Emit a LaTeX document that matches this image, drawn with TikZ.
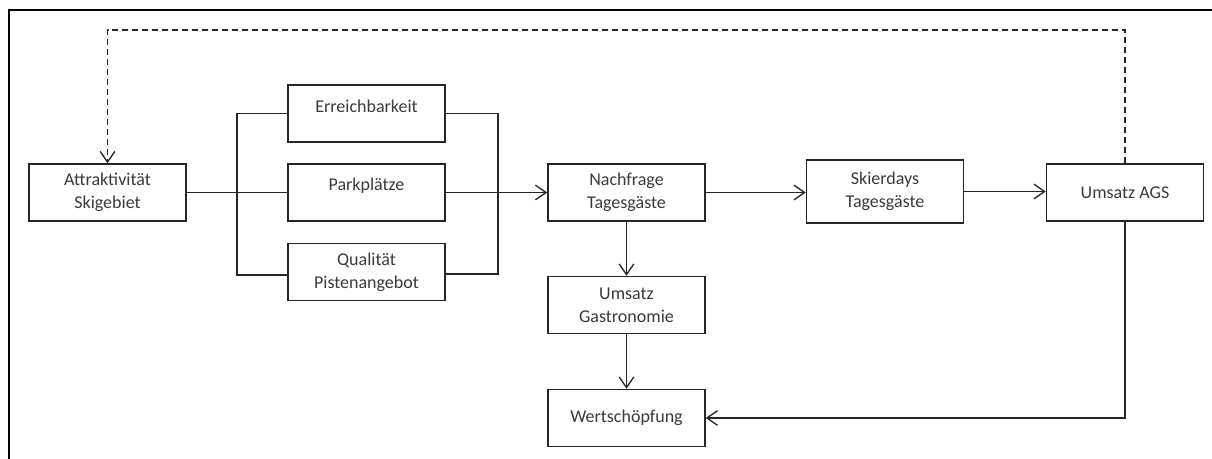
\documentclass[tikz,border=0pt]{standalone}
\usepackage{fontspec}
\setmainfont{Carlito}
\usetikzlibrary{arrows.meta}
\definecolor{txt}{HTML}{3A3A3A}
\begin{document}
\begin{tikzpicture}[x=0.75pt,y=-0.75pt,
  box/.style={draw=black!85,line width=1.1pt,minimum width=117.75pt,minimum height=42.75pt,inner sep=0pt,align=center,text=txt,font=\fontsize{13.5}{17.5}\selectfont},
  uplabel/.style={label={[text=txt,font=\fontsize{13.5}{17.5}\selectfont,yshift=5.25pt]center:#1}},
  conn/.style={draw=black!85,line width=1pt},
  arr/.style={conn,-{Straight Barb[length=8pt,width=11pt,line width=1pt]}},
  frame/.style={line width=2.2pt,draw=black}]
\useasboundingbox (0,0) rectangle (1212,459);
\draw[frame] (9,459) -- (9,10) -- (1212,10);
\node[box] (attr) at (107.5,192.5) {Attraktivität\\Skigebiet};
\node[box,uplabel=Erreichbarkeit] (err) at (366.5,113.5) {};
\node[box,uplabel=Parkplätze] (park) at (366.5,192.5) {};
\node[box] (qual) at (366.5,272) {Qualität\\Pistenangebot};
\node[box] (nach) at (626.5,192.5) {Nachfrage\\Tagesgäste};
\node[box] (gast) at (626.5,305) {Umsatz\\Gastronomie};
\node[box] (wert) at (626.5,418) {Wertschöpfung};
\node[box,minimum height=47.25pt] (ski) at (885,191.5) {Skierdays\\Tagesgäste};
\node[box] (ags) at (1125,192.5) {Umsatz AGS};
\coordinate (jl) at (237,192.5);
\coordinate (jr) at (498,192.5);
\coordinate (top) at (1125,30);
\draw[conn] (attr.east) -- (jl);
\draw[conn] (jl) -- (park.west);
\draw[conn] (err.west) -| (jl) |- ([yshift=-2.25pt]qual.west);
\draw[conn] (err.east) -| (jr) |- ([yshift=-1.5pt]qual.east);
\draw[arr] (park.east) -- (nach.west);
\draw[arr] (nach.east) -- (ski.west |- nach.east);
\draw[arr] (ski.east) -- (ags.west |- ski.east);
\draw[arr] (nach.south) -- (gast.north);
\draw[arr] (gast.south) -- (wert.north);
\draw[arr] (ags.south) |- (wert.east);
\draw[arr,dashed,dash pattern=on 4.5pt off 3pt] (ags.north) -- (top) -| (attr.north);
\end{tikzpicture}
\end{document}
